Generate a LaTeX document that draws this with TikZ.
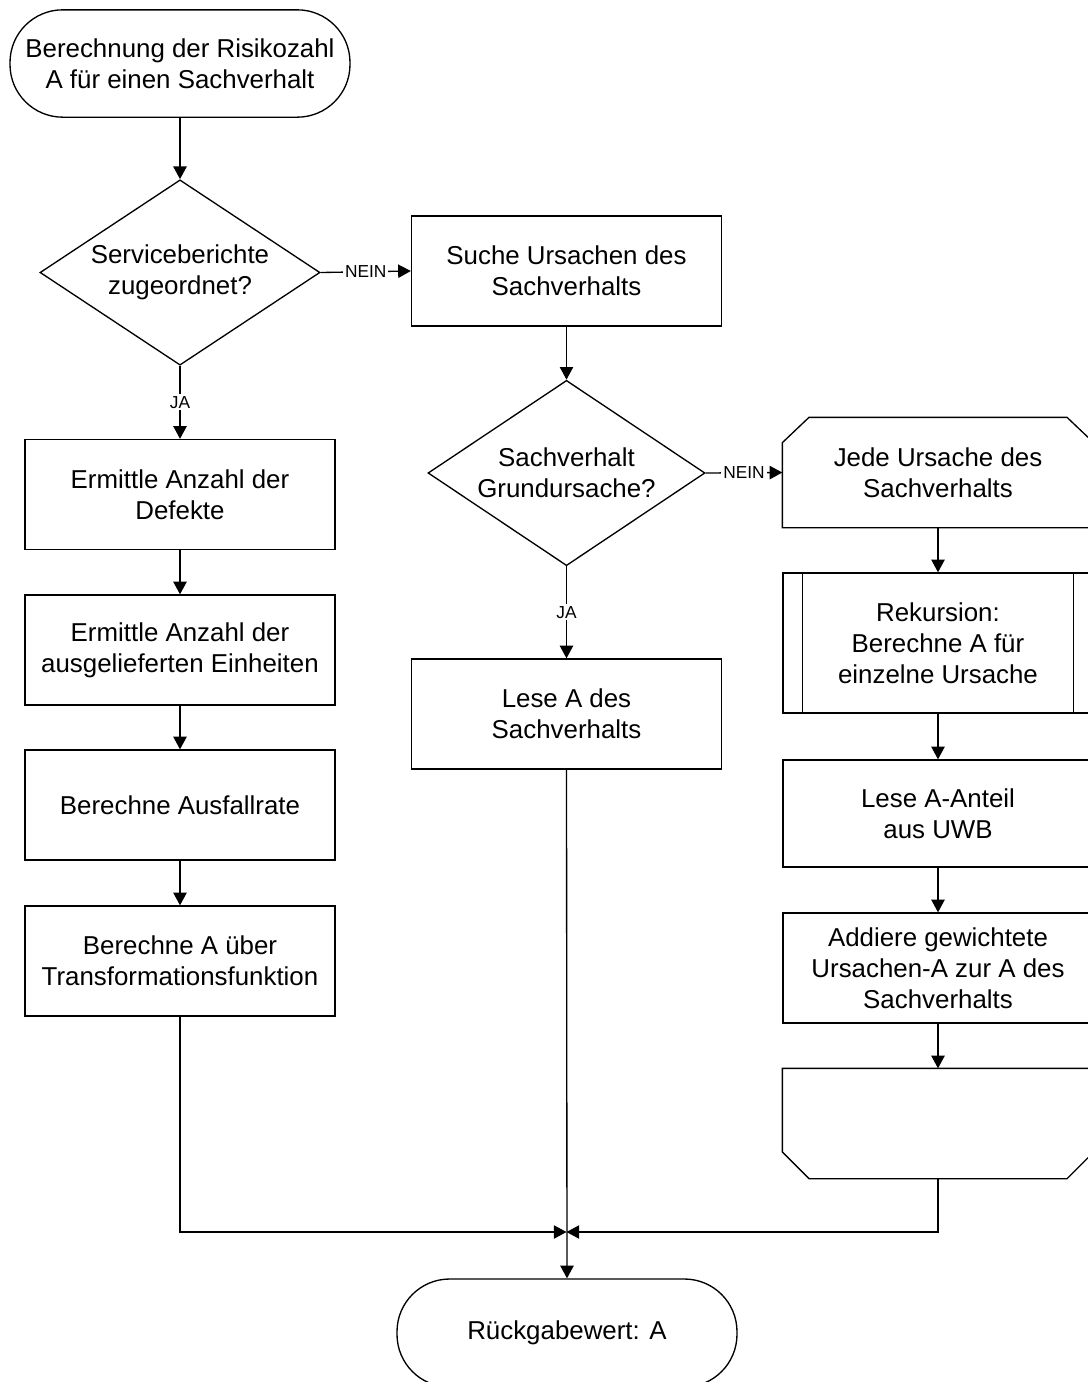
\documentclass[tikz,border=0pt]{standalone}
\usepackage{fontspec}
\setmainfont{Liberation Sans}
\usetikzlibrary{shapes.geometric,arrows.meta}
\newcommand{\boxfont}{\fontsize{19.4pt}{23.3pt}\selectfont}
\newcommand{\labfont}{\fontsize{13pt}{15pt}\selectfont}
\begin{document}
\begin{tikzpicture}[x=0.75pt,y=-0.75pt,
  conn/.style={line width=1pt},
  flow/.style={conn,-{Triangle[length=9.5pt,width=10pt]}},
  base/.style={line width=1pt, font=\boxfont, align=center, inner sep=0pt},
  proc/.style={base, draw, rectangle, minimum width=232.5pt, minimum height=82.5pt},
  term/.style={base, draw, rectangle, rounded corners=39.5pt, minimum width=255pt, minimum height=80.5pt},
  decide/.style={base, draw, diamond, aspect=1.5, minimum width=210pt, minimum height=139pt},
  loopbox/.style={base, rectangle, minimum width=232.5pt, minimum height=81.75pt},
  lab/.style={font=\labfont, fill=white, inner sep=1.5pt}
]
\useasboundingbox (0,0) rectangle (1088,1382);
\fill[white] (0,0) rectangle (1088,1382);
\clip (0,0) rectangle (1088,1382);

% start / end
\node[term] (start) at (180,63.5) {Berechnung der Risikozahl\\A für einen Sachverhalt};
\node[term, minimum height=81pt] (finish) at (567,1333) {Rückgabewert: A};

% decisions
\node[decide] (d1) at (180,272.5) {Serviceberichte\\zugeordnet?};
\node[decide, minimum width=207.75pt] (d2) at (566.5,473) {Sachverhalt\\Grundursache?};

% left branch
\node[proc] (erm1) at (180,494.5) {Ermittle Anzahl der\\Defekte};
\node[proc] (erm2) at (180,650) {Ermittle Anzahl der\\ausgelieferten Einheiten};
\node[proc] (rate) at (180,805) {Berechne Ausfallrate};
\node[proc] (trans) at (180,961) {Berechne A über\\Transformationsfunktion};

% middle branch
\node[proc] (suche) at (566.5,271) {Suche Ursachen des\\Sachverhalts};
\node[proc] (lese) at (566.5,714) {Lese A des\\Sachverhalts};

% loop over causes
\node[loopbox] (loopA) at (938,472.5) {Jede Ursache des\\Sachverhalts};
\draw[conn] ([yshift=-19pt]loopA.north west) -- ([xshift=20pt]loopA.north west)
  -- ([xshift=-20pt]loopA.north east) -- ([yshift=-19pt]loopA.north east)
  -- (loopA.south east) -- (loopA.south west) -- cycle;
\node[proc, minimum height=105pt] (rek) at (938,643) {Rekursion:\\Berechne A für\\einzelne Ursache};
\draw[conn] ([xshift=15pt]rek.north west) -- ([xshift=15pt]rek.south west);
\draw[conn] ([xshift=-15pt]rek.north east) -- ([xshift=-15pt]rek.south east);
\node[proc, minimum height=80.25pt] (anteil) at (938,813.5) {Lese A-Anteil\\aus UWB};
\node[proc] (add) at (938,968) {Addiere gewichtete\\Ursachen-A zur A des\\Sachverhalts};
\node[loopbox] (loopE) at (938,1123.5) {};
\draw[conn] (loopE.north west) -- (loopE.north east)
  -- ([yshift=20pt]loopE.south east) -- ([xshift=-20pt]loopE.south east)
  -- ([xshift=20pt]loopE.south west) -- ([yshift=20pt]loopE.south west) -- cycle;

\coordinate (join) at (566.5,1232);

% connectors
\draw[flow] (start) -- (d1);
\draw[flow] (d1.east) -- node[lab] {NEIN} (suche.west);
\draw[flow] (d1.south) -- node[lab] {JA} (erm1.north);
\draw[flow] (erm1) -- (erm2);
\draw[flow] (erm2) -- (rate);
\draw[flow] (rate) -- (trans);
\draw[flow] (suche) -- (d2);
\draw[flow] (d2.east) -- node[lab] {NEIN} (loopA.west);
\draw[flow] (d2.south) -- node[lab] {JA} (lese.north);
\draw[flow] (loopA) -- (rek);
\draw[flow] (rek) -- (anteil);
\draw[flow] (anteil) -- (add);
\draw[flow] (add) -- (loopE);
\draw[flow] (trans.south) |- (join);
\draw[flow] (loopE.south) |- (join);
\draw[flow] (lese.south) -- (finish.north);
\end{tikzpicture}
\end{document}
